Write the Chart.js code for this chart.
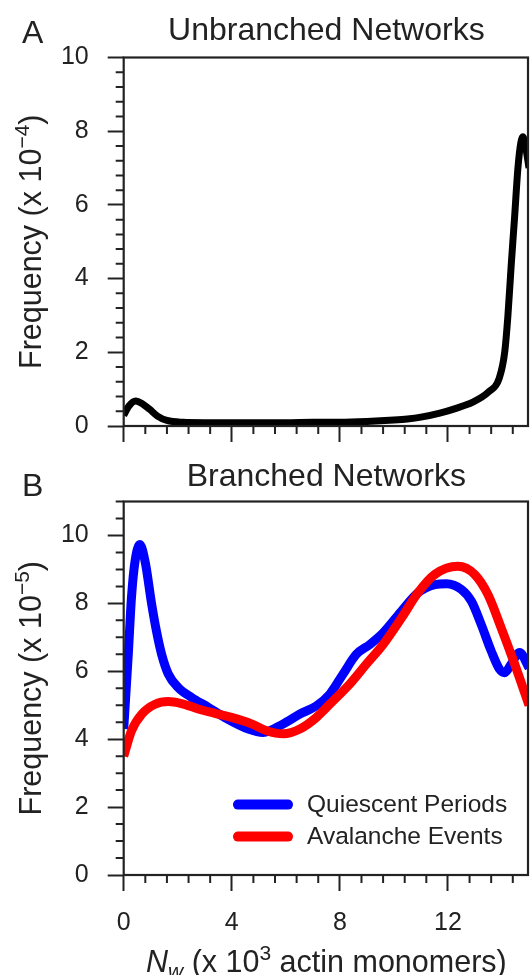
<!DOCTYPE html>
<html>
<head>
<meta charset="utf-8">
<script src="https://cdn.jsdelivr.net/npm/chart.js@4.4.1/dist/chart.umd.min.js"></script>
<style>
html, body { margin: 0; padding: 0; background: #fff; }
#wrapA { position: absolute; left: 0; top: 0; width: 530px; height: 460px; }
#wrapB { position: absolute; left: 0; top: 460px; width: 530px; height: 515px; }
</style>
</head>
<body>
<div id="wrapA"><canvas id="chartA"></canvas></div>
<div id="wrapB"><canvas id="chartB"></canvas></div>
<script>
// Panel A - unbranched networks, frequency (x 1e-4)
const xA = [0, 0.2, 0.44, 0.7, 0.95, 1.25, 1.6, 2.2, 3, 4, 5, 6, 7, 8, 9, 10, 10.5, 11, 11.7, 12.3, 12.9, 13.5, 13.9, 14.1, 14.22, 14.34, 14.47, 14.59, 14.7, 14.77, 14.87, 15];
const unbranched = [0.29, 0.55, 0.68, 0.6, 0.46, 0.27, 0.15, 0.1, 0.09, 0.09, 0.09, 0.09, 0.1, 0.1, 0.12, 0.16, 0.19, 0.24, 0.35, 0.48, 0.64, 0.92, 1.3, 2.0, 3.0, 4.35, 5.7, 7.0, 7.7, 7.85, 7.6, 7.0];

// Panel B - branched networks, frequency (x 1e-5)
const xQuiescent = [0, 0.17, 0.29, 0.42, 0.6, 0.8, 1.03, 1.22, 1.4, 1.65, 2.02, 2.51, 3.13, 3.74, 4.61, 5.16, 5.9, 6.52, 7.13, 7.63, 8.12, 8.61, 9.11, 9.6, 10.28, 10.89, 11.51, 11.94, 12.5, 12.87, 13.23, 13.6, 13.91, 14.1, 14.34, 14.65, 15];
const quiescent = [4.3, 6.5, 8.2, 9.24, 9.73, 9.2, 8.0, 7.15, 6.51, 5.92, 5.52, 5.23, 4.94, 4.64, 4.3, 4.2, 4.45, 4.74, 4.98, 5.33, 5.92, 6.5, 6.79, 7.13, 7.77, 8.31, 8.55, 8.58, 8.41, 8.06, 7.38, 6.6, 6.06, 5.96, 6.21, 6.55, 6.1];
const xAvalanche = [0, 0.29, 0.67, 1.16, 1.65, 2.14, 2.76, 3.38, 3.99, 4.73, 5.29, 5.9, 6.52, 7.13, 7.75, 8.36, 8.98, 9.6, 10.28, 10.89, 11.51, 12.37, 12.99, 13.48, 13.97, 14.47, 15];
const avalanche = [3.5, 4.25, 4.74, 5.03, 5.11, 5.05, 4.89, 4.76, 4.64, 4.45, 4.25, 4.16, 4.3, 4.64, 5.13, 5.62, 6.21, 6.79, 7.57, 8.31, 8.85, 9.09, 8.85, 8.26, 7.28, 6.21, 5.0];

const xTicks = [0, 4, 8, 12];
const yTicksA = [0, 2, 4, 6, 8, 10];
const yTicksB = [0, 2, 4, 6, 8, 10];
const seriesLabels = ['Quiescent Periods', 'Avalanche Events'];

const FONT = '"Liberation Sans", Arial, sans-serif';
const INK = '#222';
Chart.defaults.font.family = FONT;
Chart.defaults.color = INK;

const pts = (xs, ys) => xs.map((x, i) => ({ x: x, y: ys[i] }));

function richText(ctx, parts, x, y, align) {
  let total = 0;
  parts.forEach(p => {
    ctx.font = (p.style || '') + ' ' + p.size + 'px ' + FONT;
    p.w = ctx.measureText(p.t).width;
    total += p.w;
  });
  let cx = align === 'center' ? x - total / 2 : x;
  parts.forEach(p => {
    ctx.font = (p.style || '') + ' ' + p.size + 'px ' + FONT;
    ctx.fillText(p.t, cx, y + (p.dy || 0));
    cx += p.w;
  });
}

// frame, minor ticks, titles and legend
const decor = {
  id: 'decor',
  afterDraw(chart, args, o) {
    const ctx = chart.ctx;
    const a = chart.chartArea;
    const xs = chart.scales.x, ys = chart.scales.y;
    ctx.save();
    ctx.strokeStyle = INK;
    ctx.lineWidth = 2.2;
    ctx.strokeRect(a.left, a.top, a.right - a.left - 1, a.bottom - a.top);

    ctx.lineWidth = 2;
    ctx.beginPath();
    for (let v = 0; v <= ys.max + 1e-6; v += o.yMinor) {
      const r = Math.round(v * 100) / 100;
      if (r % 2 === 0 && r <= 10) continue;
      const py = ys.getPixelForValue(r);
      ctx.moveTo(a.left - 8, py); ctx.lineTo(a.left, py);
    }
    for (let v = 0; v <= xs.max + 1e-6; v += o.xMinor) {
      const r = Math.round(v * 100) / 100;
      if (xTicks.includes(r)) continue;
      const px = xs.getPixelForValue(r);
      ctx.moveTo(px, a.bottom); ctx.lineTo(px, a.bottom + 8);
    }
    ctx.stroke();

    ctx.fillStyle = INK;
    ctx.textBaseline = 'alphabetic';
    ctx.textAlign = 'left';
    const cxp = (a.left + a.right) / 2;
    richText(ctx, [{ t: o.title, size: 32 }], cxp, a.top + o.titleDy, 'center');
    richText(ctx, [{ t: o.panel, size: 32 }], 22, o.panelY, 'left');

    ctx.save();
    ctx.translate(41, (a.top + a.bottom) / 2);
    ctx.rotate(-Math.PI / 2);
    richText(ctx, [
      { t: 'Frequency (x 10', size: 30.5 },
      { t: o.exp, size: 21, dy: -12 },
      { t: ')', size: 30.5 }
    ], 0, 0, 'center');
    ctx.restore();

    if (o.xTitle) {
      richText(ctx, [
        { t: 'N', size: 30.5, style: 'italic' },
        { t: 'w', size: 21, style: 'italic', dy: 6 },
        { t: ' (x 10', size: 30.5 },
        { t: '3', size: 21, dy: -12 },
        { t: ' actin monomers)', size: 30.5 }
      ], cxp, o.xTitleY, 'center');
    }

    if (o.legend) {
      chart.data.datasets.forEach((ds, i) => {
        const ly = o.legendY + i * 32;
        ctx.strokeStyle = ds.borderColor;
        ctx.lineWidth = 10;
        ctx.lineCap = 'round';
        ctx.beginPath();
        ctx.moveTo(238, ly); ctx.lineTo(288, ly);
        ctx.stroke();
        ctx.fillStyle = INK;
        ctx.font = '24.5px ' + FONT;
        ctx.textBaseline = 'middle';
        ctx.fillText(ds.label, 307, ly + 1);
      });
    }
    ctx.restore();
  }
};

function axes(yMax, yTicks, showX, xHeight) {
  return {
    x: {
      type: 'linear', min: 0, max: 15,
      afterBuildTicks: s => { s.ticks = xTicks.map(v => ({ value: v })); },
      afterFit: s => { s.height = xHeight; },
      grid: { drawOnChartArea: false, drawTicks: true, tickLength: 16, tickWidth: 2, tickColor: INK },
      border: { display: false },
      ticks: { display: showX, font: { size: 25 }, color: INK, padding: 17, maxRotation: 0 }
    },
    y: {
      min: 0, max: yMax,
      afterBuildTicks: s => { s.ticks = yTicks.map(v => ({ value: v })); },
      afterFit: s => { s.width = 123.7; },
      grid: { drawOnChartArea: false, drawTicks: true, tickLength: 16, tickWidth: 2, tickColor: INK },
      border: { display: false },
      ticks: { font: { size: 25 }, color: INK, padding: 19 }
    }
  };
}

new Chart(document.getElementById('chartA'), {
  type: 'line',
  data: {
    datasets: [{
      label: 'Unbranched',
      data: pts(xA, unbranched),
      borderColor: '#000',
      borderWidth: 7,
      pointRadius: 0,
      cubicInterpolationMode: 'monotone',
      fill: false
    }]
  },
  options: {
    responsive: true,
    maintainAspectRatio: false,
    animation: false,
    layout: { padding: { left: 0, top: 57.5, right: 1, bottom: 0 } },
    scales: axes(10, yTicksA, false, 31),
    plugins: {
      legend: { display: false },
      tooltip: { enabled: false },
      decor: { panel: 'A', title: 'Unbranched Networks', titleDy: -18, panelY: 43, exp: '\u22124', yMinor: 0.4, xMinor: 0.8 }
    }
  },
  plugins: [decor]
});

new Chart(document.getElementById('chartB'), {
  type: 'line',
  data: {
    datasets: [{
      label: seriesLabels[0],
      data: pts(xQuiescent, quiescent),
      borderColor: '#0000ff',
      borderWidth: 9,
      pointRadius: 0,
      cubicInterpolationMode: 'monotone',
      fill: false,
      order: 1
    }, {
      label: seriesLabels[1],
      data: pts(xAvalanche, avalanche),
      borderColor: '#ff0000',
      borderWidth: 9,
      pointRadius: 0,
      cubicInterpolationMode: 'monotone',
      fill: false,
      order: 0
    }]
  },
  options: {
    responsive: true,
    maintainAspectRatio: false,
    animation: false,
    layout: { padding: { left: 0, top: 41.5, right: 1, bottom: 0 } },
    scales: axes(11, yTicksB, true, 100),
    plugins: {
      legend: { display: false },
      tooltip: { enabled: false },
      decor: { panel: 'B', title: 'Branched Networks', titleDy: -16, panelY: 35.5, exp: '\u22125', yMinor: 0.5, xMinor: 0.8, xTitle: true, xTitleY: 512, legend: true, legendY: 344.6 }
    }
  },
  plugins: [decor]
});
</script>
</body>
</html>
